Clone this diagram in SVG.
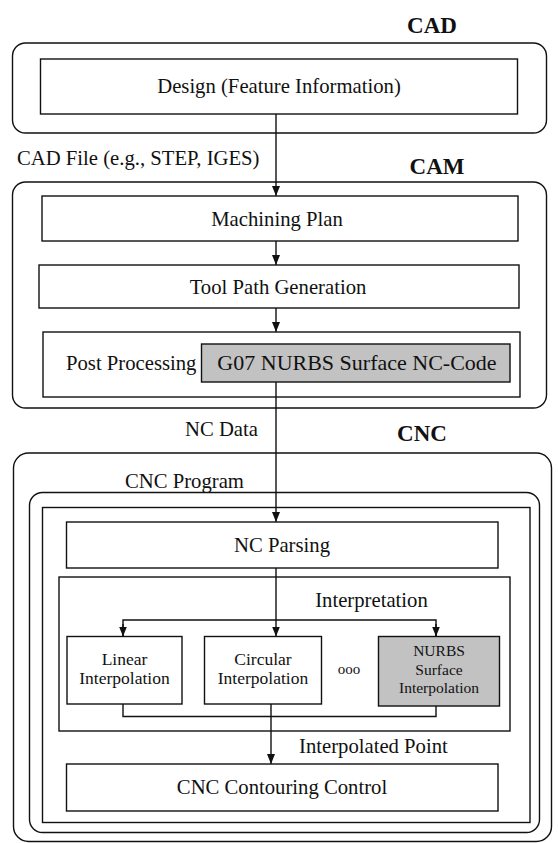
<svg xmlns="http://www.w3.org/2000/svg" width="558" height="843" viewBox="0 0 558 843">
<defs>
<style>
.frame{fill:none;stroke:#111;stroke-width:1.4}
.box{fill:#fff;stroke:#111;stroke-width:1.4}
.grey{fill:#c2c2c2;stroke:#111;stroke-width:1.4}
.t{font-family:"Liberation Serif","Times New Roman",serif;font-size:20.7px;fill:#111}
.s{font-family:"Liberation Serif","Times New Roman",serif;font-size:17.5px;fill:#111;text-anchor:middle}
.n{font-family:"Liberation Serif","Times New Roman",serif;font-size:15.5px;fill:#111;text-anchor:middle}
.h{font-family:"Liberation Serif","Times New Roman",serif;font-size:23px;font-weight:bold;fill:#111;text-anchor:middle}
.c{text-anchor:middle}
.ln{fill:none;stroke:#111;stroke-width:1.4}
</style>
<marker id="ah" viewBox="0 0 10 8" markerUnits="userSpaceOnUse" markerWidth="10" markerHeight="8" refX="10" refY="4" orient="auto">
<path d="M0,0 L10,4 L0,8 z" fill="#111"/>
</marker>
</defs>
<rect width="558" height="843" fill="#fff"/>

<g id="cad">
<text class="h" x="432" y="33">CAD</text>
<rect class="frame" x="12.5" y="43" width="534" height="90" rx="13"/>
</g>
<g id="design">
<rect class="box" x="40.5" y="59" width="477" height="55"/>
<text class="t c" x="279" y="93">Design (Feature Information)</text>
</g>

<g id="cam">
<text class="h" x="437" y="174">CAM</text>
<rect class="frame" x="12.5" y="182" width="534" height="226" rx="13"/>
</g>
<g id="machining">
<rect class="box" x="42" y="196" width="476" height="45"/>
<text class="t c" x="277" y="225.5">Machining Plan</text>
</g>
<g id="toolpath">
<rect class="box" x="39" y="265" width="480" height="43"/>
<text class="t c" x="278" y="294">Tool Path Generation</text>
</g>
<g id="post">
<rect class="box" x="43" y="332" width="477" height="65"/>
<text class="t" x="66" y="370">Post Processing</text>
</g>
<g id="g07">
<rect class="grey" x="201.5" y="344" width="308.5" height="38"/>
<text class="t c" x="357" y="370" style="font-size:22px">G07 NURBS Surface NC-Code</text>
</g>

<g id="cnc">
<text class="h" x="422" y="441">CNC</text>
<rect class="frame" x="13.5" y="453" width="538" height="388.5" rx="15"/>
<text class="t" x="125" y="488">CNC Program</text>
<rect class="frame" x="29.5" y="492.5" width="510" height="340" rx="13"/>
<rect class="frame" x="42.5" y="507.5" width="487.5" height="315"/>
</g>
<g id="parsing">
<rect class="box" x="66.5" y="522" width="431.5" height="46"/>
<text class="t c" x="282" y="552">NC Parsing</text>
</g>
<g id="interpretation">
<rect class="frame" x="59" y="577" width="451" height="154"/>
<text class="t c" x="371.5" y="607">Interpretation</text>
</g>
<g id="linear">
<rect class="box" x="67" y="636.5" width="115" height="67.5"/>
<text class="s" x="124.5" y="665">Linear</text>
<text class="s" x="124.5" y="684">Interpolation</text>
</g>
<g id="circular">
<rect class="box" x="204.5" y="636.5" width="117" height="67.5"/>
<text class="s" x="263" y="665">Circular</text>
<text class="s" x="263" y="684">Interpolation</text>
</g>
<g id="dots">
<text class="s" x="349" y="674" style="font-size:15px">ooo</text>
</g>
<g id="nurbs">
<rect class="grey" x="378.5" y="636.5" width="121" height="69.5"/>
<text class="n" x="439" y="656">NURBS</text>
<text class="n" x="439" y="674.5">Surface</text>
<text class="n" x="439" y="693">Interpolation</text>
</g>
<g id="contouring">
<rect class="box" x="66.5" y="764" width="431.5" height="47"/>
<text class="t c" x="282" y="794">CNC Contouring Control</text>
</g>

<g id="connectors">
<line class="ln" x1="276" y1="114" x2="276" y2="196" marker-end="url(#ah)"/>
<text class="t" x="17" y="165">CAD File (e.g., STEP, IGES)</text>
<line class="ln" x1="276" y1="241" x2="276" y2="265" marker-end="url(#ah)"/>
<line class="ln" x1="276" y1="308" x2="276" y2="332" marker-end="url(#ah)"/>
<line class="ln" x1="276" y1="382" x2="276" y2="522" marker-end="url(#ah)"/>
<text class="t" x="185" y="436">NC Data</text>
<line class="ln" x1="276" y1="568" x2="276" y2="636.5" marker-end="url(#ah)"/>
<polyline class="ln" points="123,636.5 123,620 436,620 436,636.5"/>
<line class="ln" x1="123" y1="624" x2="123" y2="636.5" marker-end="url(#ah)"/>
<line class="ln" x1="436" y1="624" x2="436" y2="636.5" marker-end="url(#ah)"/>
<polyline class="ln" points="123,704 123,716.5 436,716.5 436,706"/>
<line class="ln" x1="271" y1="704" x2="271" y2="764" marker-end="url(#ah)"/>
<text class="t" x="299" y="753">Interpolated Point</text>
</g>
</svg>
